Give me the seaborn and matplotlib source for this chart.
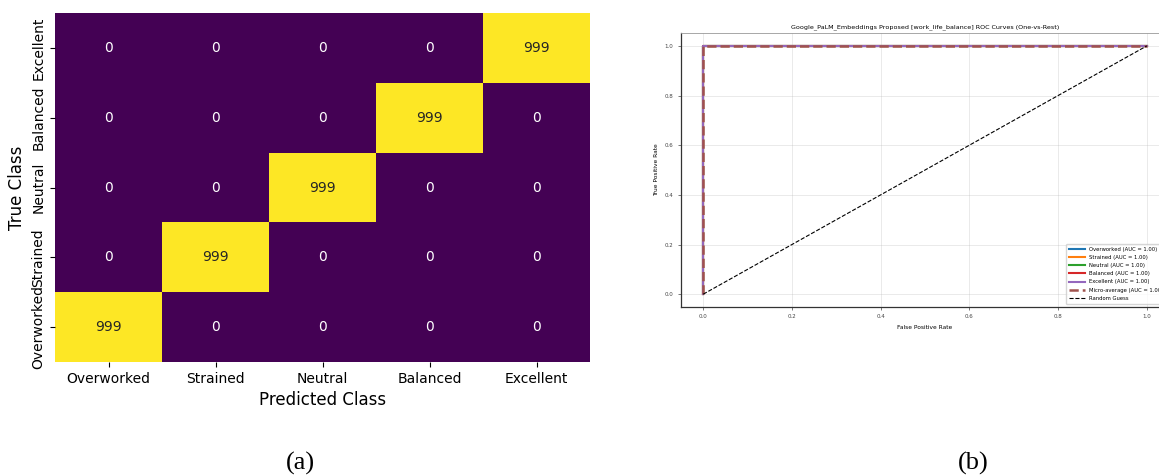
import numpy as np
import pandas as pd
import matplotlib
matplotlib.use('Agg')
import matplotlib.pyplot as plt
import seaborn as sns

classes = ['Overworked', 'Strained', 'Neutral', 'Balanced', 'Excellent']
# confusion matrix counts, rows = true class, cols = predicted class
cm_counts = [[999, 0, 0, 0, 0],
             [0, 999, 0, 0, 0],
             [0, 0, 999, 0, 0],
             [0, 0, 0, 999, 0],
             [0, 0, 0, 0, 999]]
auc_values = [1.00, 1.00, 1.00, 1.00, 1.00]
micro_auc = 1.00
# ROC curve points (same for every class: perfect classifier)
fpr_class = [0.0, 0.0, 1.0]
tpr_class = [0.0, 1.0, 1.0]
fpr_micro = [0.0, 0.0, 1.0]
tpr_micro = [0.0, 1.0, 1.0]
diag = [0.0, 1.0]

fig = plt.figure(figsize=(11.59, 4.75), dpi=100)

# (a) confusion matrix, true classes shown from top = Excellent
cm = pd.DataFrame(cm_counts, index=classes, columns=classes).iloc[::-1]
ax1 = fig.add_axes([0.0475, 0.2379, 0.4616, 0.7347])
sns.heatmap(cm, annot=True, fmt='d', cmap='viridis', cbar=False, ax=ax1,
            annot_kws={'fontsize': 10})
ax1.set_xlabel('Predicted Class', fontsize=12)
ax1.set_ylabel('True Class', fontsize=12)
ax1.tick_params(axis='both', labelsize=10, length=3.5, width=0.8)
ax1.set_yticklabels(ax1.get_yticklabels(), rotation=90, va='center')

# (b) ROC curves
ax2 = fig.add_axes([0.5876, 0.3545, 0.421, 0.575])
colors = sns.color_palette('tab10')
for i, c in enumerate(classes):
    sns.lineplot(x=fpr_class, y=tpr_class, ax=ax2, color=colors[i], lw=1.5,
                 sort=False, estimator=None,
                 label=f'{c} (AUC = {auc_values[i]:.2f})')
sns.lineplot(x=fpr_micro, y=tpr_micro, ax=ax2, color='#a0524d', lw=1.8,
             linestyle='--', sort=False, estimator=None,
             label=f'Micro-average (AUC = {micro_auc:.2f})')
sns.lineplot(x=diag, y=diag, ax=ax2, color='k', lw=0.8, linestyle='--',
             sort=False, estimator=None, label='Random Guess')
ax2.set_xlim(-0.05, 1.05)
ax2.set_ylim(-0.05, 1.05)
ax2.set_xticks([0.0, 0.2, 0.4, 0.6, 0.8, 1.0])
ax2.set_yticks([0.0, 0.2, 0.4, 0.6, 0.8, 1.0])
ax2.grid(True, alpha=0.3, lw=0.6)
ax2.tick_params(axis='both', labelsize=4, length=2, width=0.5, colors='#444444')
ax2.set_xlabel('False Positive Rate', fontsize=4.2)
ax2.set_ylabel('True Positive Rate', fontsize=4.2)
ax2.set_title('Google_PaLM_Embeddings Proposed [work_life_balance] ROC Curves (One-vs-Rest)',
              fontsize=4.6, pad=4)
for s in ['left', 'bottom']:
    ax2.spines[s].set_color('#333333')
    ax2.spines[s].set_linewidth(0.9)
for s in ['top', 'right']:
    ax2.spines[s].set_color('#999999')
    ax2.spines[s].set_linewidth(0.6)
ax2.legend(loc='lower right', fontsize=3.8, frameon=True, framealpha=0.8,
           handlelength=3, borderpad=0.6, labelspacing=0.6)

fig.text(300 / 1159, 1 - 463 / 475, '(a)', ha='center', va='center',
         fontsize=19, family='Liberation Serif')
fig.text(973 / 1159, 1 - 463 / 475, '(b)', ha='center', va='center',
         fontsize=19, family='Liberation Serif')

fig.savefig('out.png', dpi=100)
